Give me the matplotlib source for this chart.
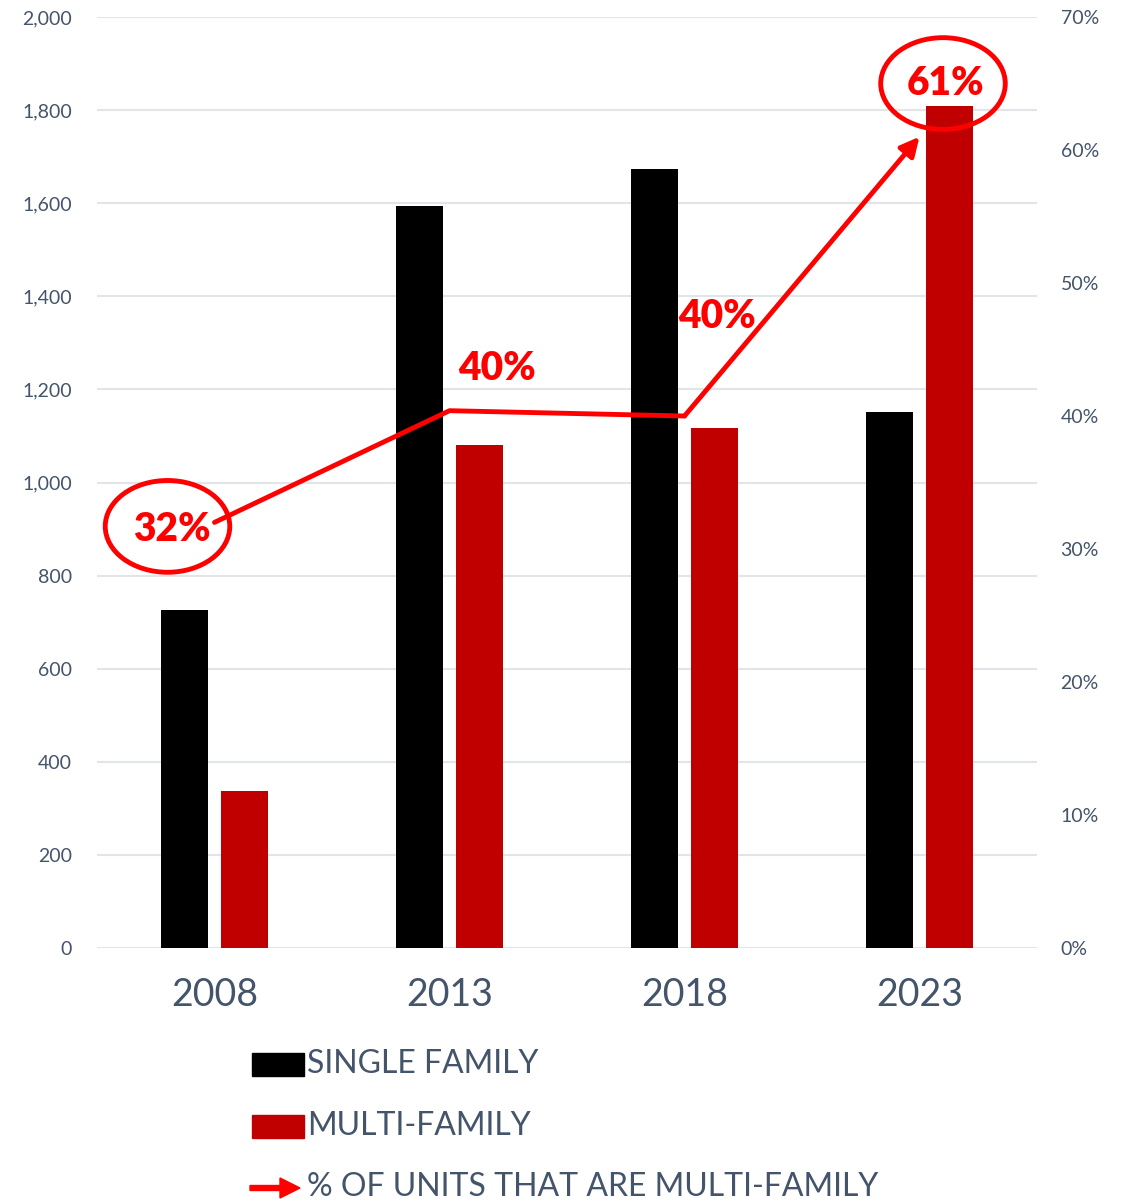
import matplotlib
matplotlib.use('Agg')
import matplotlib.pyplot as plt
import numpy as np
from matplotlib.patches import Rectangle, Ellipse, FancyArrow
from matplotlib.ticker import FuncFormatter

plt.rcParams['font.family'] = ['Lato', 'DejaVu Sans']

years = ['2008', '2013', '2018', '2023']
single_family = [726, 1594, 1673, 1151]
multi_family = [337, 1081, 1117, 1809]
pct_multi = [32, 40.4, 40, 61]
pct_labels = ['32%', '40%', '40%', '61%']

txt_col = '#44546A'
grid_col = '#E1E4E9'
red_dark = '#C00000'
red = '#FF0000'

fig = plt.figure(figsize=(11.24, 12.01), dpi=100)
ax = fig.add_axes([0.0863, 0.2107, 0.8363, 0.7751])
ax2 = ax.twinx()

x = np.arange(len(years))
ax.bar(x - 0.128, single_family, 0.2, color='black', zorder=3)
ax.bar(x + 0.128, multi_family, 0.2, color=red_dark, zorder=3)

ax.set_xlim(-0.5, 3.5)
ax.set_ylim(0, 2000)
ax.set_yticks(np.arange(0, 2001, 200))
ax.yaxis.set_major_formatter(FuncFormatter(lambda v, p: f'{int(v):,}'))
ax.grid(axis='y', color=grid_col, lw=1.5, zorder=0)
ax.set_xticks(x)
ax.set_xticklabels(years, fontsize=27, color=txt_col)
ax.tick_params(axis='y', labelsize=14, labelcolor=txt_col, length=0, pad=18)
ax.tick_params(axis='x', length=0, pad=21)
for s in ax.spines.values():
    s.set_visible(False)

ax2.set_ylim(0, 70)
ax2.set_yticks(np.arange(0, 71, 10))
ax2.yaxis.set_major_formatter(FuncFormatter(lambda v, p: f'{int(v)}%'))
ax2.tick_params(axis='y', labelsize=14, labelcolor=txt_col, length=0, pad=17)
for s in ax2.spines.values():
    s.set_visible(False)

# percentage line with arrow at the end
ax2.plot(x[:3], pct_multi[:3], color=red, lw=3.5, solid_capstyle='round', zorder=4)
ax2.annotate('', xy=(x[3], pct_multi[3]), xytext=(x[2], pct_multi[2]),
             arrowprops=dict(arrowstyle='-|>', color=red, lw=3.5,
                             mutation_scale=28, shrinkA=0, shrinkB=0), zorder=4)

lab_pos = [(-0.18, 31.5), (1.2, 43.6), (2.14, 47.5), (3.11, 65.0)]
for (lx, ly), t in zip(lab_pos, pct_labels):
    ax2.text(lx, ly, t, color=red, fontsize=28, fontweight='heavy',
             ha='center', va='center', zorder=6)

# circles around first and last labels
for cx, cy in [(-0.2, 31.7), (3.1, 65.0)]:
    ax2.add_patch(Ellipse((cx, cy), 0.53, 6.9, fill=False, ec=red, lw=3.5,
                          zorder=6, clip_on=False))

# legend drawn by hand
W, H = 1124, 1201
def fx(px):
    return px / W
def fy(py):
    return 1 - py / H

fig.patches.append(Rectangle((fx(252), fy(1076)), fx(52), 23 / H,
                             color='black', transform=fig.transFigure))
fig.patches.append(Rectangle((fx(252), fy(1138)), fx(52), 23 / H,
                             color=red_dark, transform=fig.transFigure))
fig.patches.append(FancyArrow(fx(250), fy(1188), fx(50), 0, width=5 / H,
                              head_width=20 / H, head_length=fx(20),
                              length_includes_head=True, color=red,
                              transform=fig.transFigure))
leg_text = ['SINGLE FAMILY', 'MULTI-FAMILY', '% OF UNITS THAT ARE MULTI-FAMILY']
for t, py in zip(leg_text, [1064, 1126, 1187]):
    fig.text(fx(307), fy(py), t, fontsize=23, color=txt_col, ha='left', va='center')

fig.savefig('out.png', dpi=100)
